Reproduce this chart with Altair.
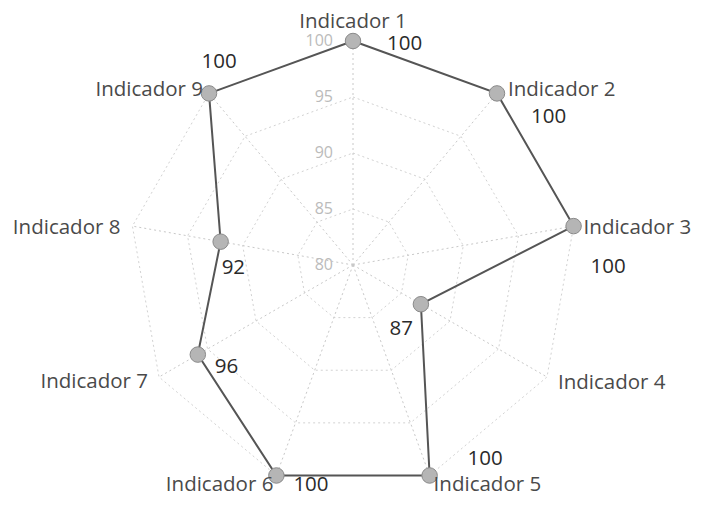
import math
import altair as alt
import pandas as pd

# ---- data ----
indicators = ["Indicador 1", "Indicador 2", "Indicador 3", "Indicador 4", "Indicador 5",
              "Indicador 6", "Indicador 7", "Indicador 8", "Indicador 9"]
values = [100, 100, 100, 87, 100, 100, 96, 92, 100]
ticks = [80, 85, 90, 95, 100]
r_min, r_max = 80, 100

n = len(indicators)
pts = pd.DataFrame({"i": list(range(n)), "name": indicators, "value": values})
closed = pd.concat([pts, pts.iloc[[0]].assign(i=n)], ignore_index=True)
rings = pd.DataFrame([{"ring": t, "i": k} for t in ticks for k in range(n + 1)])
tick_df = pd.DataFrame({"tick": ticks})

W, H = 685, 490
unit = 11.2
cx, cy = 345, 257
xdom = [-cx / unit, (W - cx) / unit]
ydom = [-(H - cy) / unit, cy / unit]
X = alt.Scale(domain=xdom, nice=False, zero=False)
Y = alt.Scale(domain=ydom, nice=False, zero=False)

ang = f"datum.i * 2 * PI / {n}"
FONT = "Open Sans"


def polar(chart, rexpr):
    return chart.transform_calculate(
        r=rexpr, ang=ang
    ).transform_calculate(
        px="datum.r * sin(datum.ang)", py="datum.r * cos(datum.ang)",
        ox=f"{r_max - r_min} * sin(datum.ang)", oy=f"{r_max - r_min} * cos(datum.ang)",
        zero="0",
    )


xe = lambda f: alt.X(f, type="quantitative", scale=X, axis=None)
ye = lambda f: alt.Y(f, type="quantitative", scale=Y, axis=None)

ring_layer = polar(alt.Chart(rings), f"datum.ring - {r_min}").mark_line(
    color="#d2d2d2", strokeWidth=1, strokeDash=[2, 3]
).encode(x=xe("px:Q"), y=ye("py:Q"), detail="ring:N", order="i:Q")

spoke_layer = polar(alt.Chart(pts), f"datum.value - {r_min}").mark_rule(
    color="#c8c8c8", strokeWidth=1, strokeDash=[2, 3]
).encode(x=xe("zero:Q"), y=ye("zero:Q"), x2="ox:Q", y2="oy:Q")

line_layer = polar(alt.Chart(closed), f"datum.value - {r_min}").mark_line(
    color="#555555", strokeWidth=2
).encode(x=xe("px:Q"), y=ye("py:Q"), order="i:Q")

point_layer = polar(alt.Chart(pts), f"datum.value - {r_min}").mark_point(
    filled=True, size=240, shape="circle", fill="#b5b5b5", stroke="#8a8a8a", strokeWidth=1, opacity=1
).encode(x=xe("px:Q"), y=ye("py:Q"))

tick_layer = alt.Chart(tick_df).transform_calculate(
    px="0", py=f"datum.tick - {r_min}"
).mark_text(align="right", baseline="middle", dx=-20, fontSize=16, font=FONT, color="#bbbbbb").encode(
    x=xe("px:Q"), y=ye("py:Q"), text="tick:Q"
)

# label placement (style): align, dx, dy per indicator
cat_style = [("center", 0, -19), ("left", 11, -3), ("left", 10, 2), ("left", 11, 6), ("left", 4, 10),
             ("right", -3, 10), ("right", -11, 5), ("right", -12, 2), ("right", -6, -3)]
val_style = [("left", 34, 3), ("left", 34, 24), ("left", 17, 41), ("right", -8, 25), ("left", 38, -16),
             ("left", 17, 10), ("left", 17, 12), ("left", 1, 26), ("center", 10, -31)]

label_layers = []
for k, name in enumerate(indicators):
    a, dx, dy = cat_style[k]
    label_layers.append(
        polar(alt.Chart(pts), f"datum.value - {r_min}").transform_filter(f"datum.i == {k}")
        .mark_text(align=a, baseline="middle", dx=dx, dy=dy, fontSize=20.5, font=FONT, color="#4a4a4a")
        .encode(x=xe("ox:Q"), y=ye("oy:Q"), text="name:N")
    )
    a, dx, dy = val_style[k]
    label_layers.append(
        polar(alt.Chart(pts), f"datum.value - {r_min}").transform_filter(f"datum.i == {k}")
        .mark_text(align=a, baseline="middle", dx=dx, dy=dy, fontSize=20.5, font=FONT, color="#2a2a2a")
        .encode(x=xe("px:Q"), y=ye("py:Q"), text="value:Q")
    )

chart = alt.layer(
    ring_layer, spoke_layer, tick_layer, line_layer, point_layer, *label_layers
).properties(
    width=W, height=H, padding=0, autosize=alt.AutoSizeParams(type="none")
).configure(background="white", view=alt.ViewConfig(stroke=None))

chart.save("out.html", embed_options={"renderer": "svg", "actions": False})
